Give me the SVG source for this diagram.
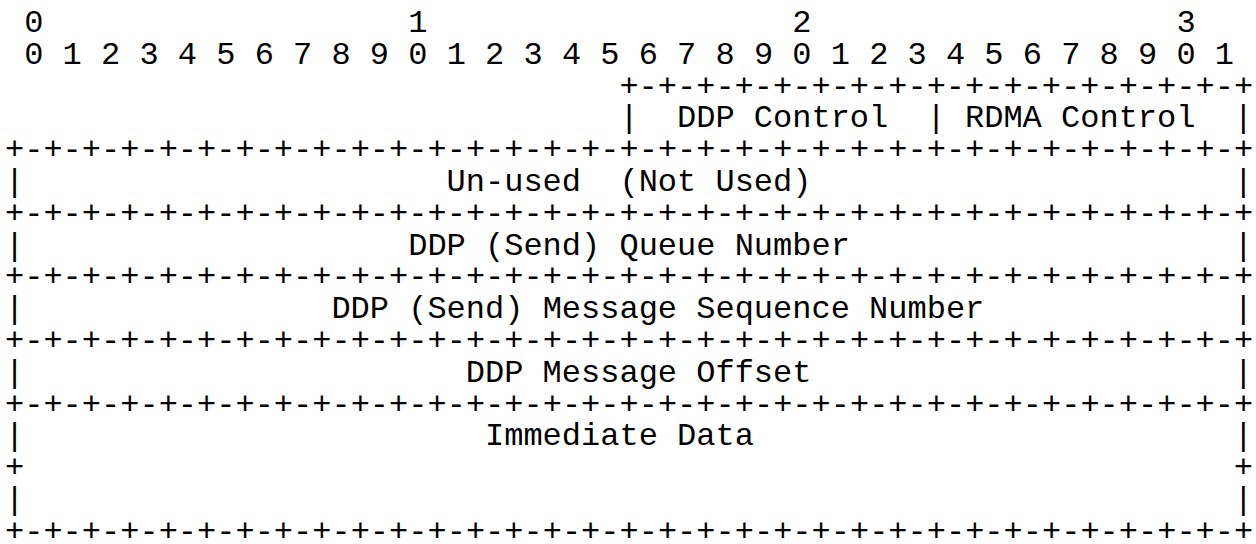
<svg xmlns="http://www.w3.org/2000/svg" width="1256" height="544" viewBox="0 0 1256 544">
<style>
text{font-family:"Liberation Mono","DejaVu Sans Mono",monospace;font-size:32px;fill:#000;white-space:pre}
</style>
<rect width="1256" height="544" fill="#fff"/>
<g id="ruler">
<text x="5" y="32" xml:space="preserve"> 0                   1                   2                   3</text>
<text x="5" y="63.8" xml:space="preserve"> 0 1 2 3 4 5 6 7 8 9 0 1 2 3 4 5 6 7 8 9 0 1 2 3 4 5 6 7 8 9 0 1</text>
</g>
<g id="connectors">
<text x="619.4" y="95.6">+-+-+-+-+-+-+-+-+-+-+-+-+-+-+-+-+</text>
<text x="5" y="159.2">+-+-+-+-+-+-+-+-+-+-+-+-+-+-+-+-+-+-+-+-+-+-+-+-+-+-+-+-+-+-+-+-+</text>
<text x="5" y="222.8">+-+-+-+-+-+-+-+-+-+-+-+-+-+-+-+-+-+-+-+-+-+-+-+-+-+-+-+-+-+-+-+-+</text>
<text x="5" y="286.4">+-+-+-+-+-+-+-+-+-+-+-+-+-+-+-+-+-+-+-+-+-+-+-+-+-+-+-+-+-+-+-+-+</text>
<text x="5" y="350">+-+-+-+-+-+-+-+-+-+-+-+-+-+-+-+-+-+-+-+-+-+-+-+-+-+-+-+-+-+-+-+-+</text>
<text x="5" y="413.6">+-+-+-+-+-+-+-+-+-+-+-+-+-+-+-+-+-+-+-+-+-+-+-+-+-+-+-+-+-+-+-+-+</text>
<text x="5" y="477.2">+</text>
<text x="1233.8" y="477.2">+</text>
<text x="5" y="540.8">+-+-+-+-+-+-+-+-+-+-+-+-+-+-+-+-+-+-+-+-+-+-+-+-+-+-+-+-+-+-+-+-+</text>
<text x="619.4" y="127.4">|</text>
<text x="926.6" y="127.4">|</text>
<text x="1233.8" y="127.4">|</text>
<text x="5" y="191">|</text><text x="1233.8" y="191">|</text>
<text x="5" y="254.6">|</text><text x="1233.8" y="254.6">|</text>
<text x="5" y="318.2">|</text><text x="1233.8" y="318.2">|</text>
<text x="5" y="381.8">|</text><text x="1233.8" y="381.8">|</text>
<text x="5" y="445.4">|</text><text x="1233.8" y="445.4">|</text>
<text x="5" y="509">|</text><text x="1233.8" y="509">|</text>
</g>
<g id="node-ddp-control"><text x="677" y="127.4">DDP Control</text></g>
<g id="node-rdma-control"><text x="965" y="127.4">RDMA Control</text></g>
<g id="node-unused"><text x="446.6" y="191" xml:space="preserve">Un-used  (Not Used)</text></g>
<g id="node-queue-number"><text x="408.2" y="254.6">DDP (Send) Queue Number</text></g>
<g id="node-msn"><text x="331.4" y="318.2">DDP (Send) Message Sequence Number</text></g>
<g id="node-mo"><text x="465.8" y="381.8">DDP Message Offset</text></g>
<g id="node-immediate-data"><text x="485" y="445.4">Immediate Data</text></g>
</svg>
